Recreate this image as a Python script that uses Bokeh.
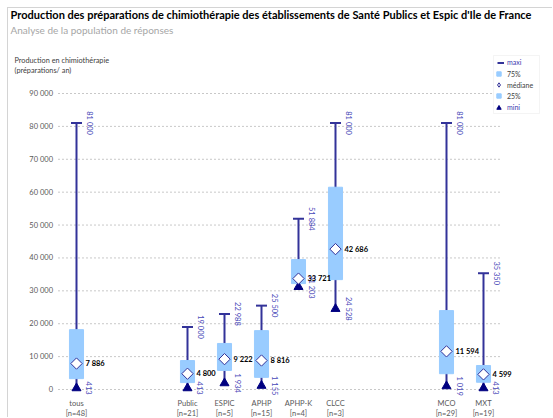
import numpy as np
from bokeh.plotting import figure
from bokeh.models import (ColumnDataSource, Range1d, Label, Legend, LegendItem, FixedTicker,
                          LinearAxis, BoxAnnotation)
from bokeh.core.properties import value
from bokeh.embed import file_html
from bokeh.resources import INLINE

# ---- data ----
categories = ["tous", "Public", "ESPIC", "APHP", "APHP-K", "CLCC", "MCO", "MXT"]
counts = [48, 21, 5, 15, 4, 3, 29, 19]
maxi = [81000, 19000, 22988, 25500, 51884, 81000, 81000, 35350]
q3 = [18200, 8800, 14000, 17900, 39500, 61500, 24000, 7300]
mediane = [7886, 4800, 9222, 8816, 33721, 42686, 11594, 4599]
q1 = [3300, 2100, 5800, 3700, 32200, 33400, 4800, 2200]
mini = [413, 413, 1934, 1155, 31203, 24528, 1019, 413]
y_ticks = [0, 10000, 20000, 30000, 40000, 50000, 60000, 70000, 80000, 90000]

title = "Production des préparations de chimiothérapie des établissements de Santé Publics et Espic d'Ile de France"
subtitle = "Analyse de la population de réponses"
ytitle = ["Production en chimiothérapie", "(préparations/ an)"]
legend_labels = ["maxi", "75%", "médiane", "25%", "mini"]

# slot layout (None = empty gap slot)
slots = ["tous", None, None, "Public", "ESPIC", "APHP", "APHP-K", "CLCC", None, None, "MCO", "MXT"]
xpos = [slots.index(c) for c in categories]

FONT = "Lato"
WHISK = "#333399"
BOX = "#99CCFF"
MINC = "#000080"
LBL = "#4848B8"

def fmt(v):
    return f"{v:,}".replace(",", " ")

src = ColumnDataSource(dict(
    x=xpos, maxi=maxi, q3=q3, med=mediane, q1=q1, mini=mini,
    maxl=[fmt(v) for v in maxi], medl=[fmt(v) for v in mediane], minl=[fmt(v) for v in mini],
))

W, H = 545, 410
p = figure(width=W, height=H, output_backend="svg", toolbar_location=None,
           x_range=Range1d(-1.8378, 12.892), y_range=Range1d(-8818, 115845),
           min_border_left=0, min_border_right=0, min_border_top=0, min_border_bottom=0)
p.styles = {"margin-left": "7px", "margin-top": "7px",
            "border-left": "1px solid #D4D4D4", "border-top": "1px solid #D4D4D4"}
p.outline_line_color = None
p.xgrid.grid_line_color = None
p.ygrid.grid_line_color = None

# gridlines across the plot area
p.segment(x0=-0.5, x1=len(slots) - 0.5, y0=y_ticks, y1=y_ticks,
          line_color="#C8C8C8", line_dash="2 2", line_width=1)

# whiskers
p.segment(x0="x", y0="mini", x1="x", y1="maxi", source=src, line_color=WHISK, line_width=2)
# boxes
p.vbar(x="x", bottom="q1", top="q3", width=0.38, source=src, fill_color=BOX, line_color=BOX)
# max caps
p.scatter(x="x", y="maxi", source=src, marker="dash", size=11, line_color=WHISK, line_width=2)
# min triangles
p.scatter(x="x", y="mini", source=src, marker="triangle", size=9, fill_color=MINC, line_color=MINC)
# median diamonds
p.scatter(x="x", y="med", source=src, marker="square", angle=np.pi / 4, size=8,
          fill_color="white", line_color=WHISK, line_width=1)

# value labels
p.text(x="x", y="maxi", text="maxl", source=src, angle=-np.pi / 2, x_offset=13,
       text_align="center", text_baseline="middle", text_font=value(FONT),
       text_font_size="7.5px", text_color=LBL)
p.text(x="x", y="mini", text="minl", source=src, angle=-np.pi / 2, x_offset=13,
       text_align="center", text_baseline="middle", text_font=value(FONT),
       text_font_size="7.5px", text_color=LBL)
p.text(x="x", y="med", text="medl", source=src, x_offset=9,
       text_align="left", text_baseline="middle", text_font=value(FONT),
       text_font_size="7.5px", text_font_style="bold", text_color="#000000")

# axes (fixed inside the plot so they take no side panel)
def style_axis(ax):
    ax.axis_line_color = None
    ax.major_tick_line_color = None
    ax.minor_tick_line_color = None
    ax.major_tick_out = 0
    ax.major_tick_in = 0
    ax.minor_tick_out = 0
    ax.minor_tick_in = 0
    ax.major_label_text_font = FONT
    ax.major_label_text_font_size = "7.5px"
    ax.major_label_text_color = "#595959"

p.yaxis.fixed_location = -0.5
p.yaxis.ticker = FixedTicker(ticks=y_ticks)
p.yaxis.major_label_overrides = {t: fmt(t) for t in y_ticks}
p.yaxis.major_label_standoff = 5
style_axis(p.yaxis[0])

p.xaxis.fixed_location = 0
p.xaxis.ticker = FixedTicker(ticks=xpos)
p.xaxis.major_label_overrides = {x: c for x, c in zip(xpos, categories)}
p.xaxis.major_label_standoff = 10
style_axis(p.xaxis[0])

xaxis2 = LinearAxis(fixed_location=0, ticker=FixedTicker(ticks=xpos),
                    major_label_overrides={x: f"[n={n}]" for x, n in zip(xpos, counts)},
                    major_label_standoff=20)
style_axis(xaxis2)
p.add_layout(xaxis2, "below")

# titles (screen units from frame bottom-left; frame = whole figure)
def sy(py):
    return (H + 8) - py

def page_label(px, py, text, **kw):
    p.add_layout(Label(x=px - 8, y=sy(py), x_units="screen", y_units="screen", text=text,
                       text_font=FONT, text_baseline="middle", **kw))

page_label(10, 14, title, text_font_size="11px", text_font_style="bold", text_color="#000000")
page_label(10, 29, subtitle, text_font_size="10px", text_color="#A6A6A6")
page_label(14, 60, ytitle[0], text_font_size="7.3px", text_color="#404040")
page_label(14, 70, ytitle[1], text_font_size="7.3px", text_color="#404040")

# legend: frame box + three stacked legends (blue text for maxi / mini)
p.add_layout(BoxAnnotation(left=493 - 8, right=539 - 8, top=sy(55), bottom=sy(113),
                           left_units="screen", right_units="screen",
                           top_units="screen", bottom_units="screen",
                           fill_color="white", fill_alpha=1, line_color="#D9D9D9", line_width=1))

off = ColumnDataSource(dict(x=[-100, -99], y=[-1e6, -1e6]))
r_max = p.line(x="x", y="y", source=off, line_color=WHISK, line_width=2)
r_q = p.scatter(x="x", y="y", source=off, marker="square", size=5, fill_color=BOX, line_color=BOX)
r_med = p.scatter(x="x", y="y", source=off, marker="diamond", size=5,
                  fill_color="white", line_color=WHISK)
r_min = p.scatter(x="x", y="y", source=off, marker="triangle", size=6, fill_color=MINC, line_color=MINC)

common = dict(label_text_font=FONT, label_text_font_size="7px", glyph_height=11, label_height=11,
              spacing=0, padding=0, margin=0, label_standoff=3,
              border_line_color=None, background_fill_alpha=0)
legA = Legend(items=[LegendItem(label=legend_labels[0], renderers=[r_max])],
              location=(497 - 8, sy(67.5)), glyph_width=7, label_text_color="#3A3AB0", **common)
legB = Legend(items=[LegendItem(label=legend_labels[1], renderers=[r_q]),
                     LegendItem(label=legend_labels[2], renderers=[r_med]),
                     LegendItem(label=legend_labels[3], renderers=[r_q])],
              location=(493 - 8, sy(101)), glyph_width=11, label_text_color="#404040", **common)
legC = Legend(items=[LegendItem(label=legend_labels[4], renderers=[r_min])],
              location=(493 - 8, sy(112.5)), glyph_width=11, label_text_color="#3A3AB0", **common)
for lg in (legA, legB, legC):
    p.add_layout(lg, "center")

open("out.html", "w").write(file_html(p, INLINE))
